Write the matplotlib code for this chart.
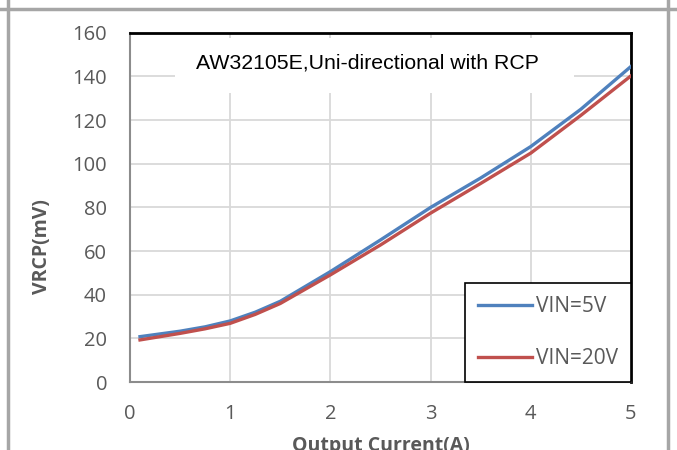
import matplotlib.pyplot as plt
from matplotlib.patches import Rectangle
from matplotlib.lines import Line2D

# Datos
current = [0.1, 0.5, 0.75, 1.0, 1.25, 1.5, 2.0, 2.5, 3.0, 3.5, 4.0, 4.5, 5.0]
vrcp_5v = [20.8, 23.3, 25.3, 28.0, 32.0, 37.0, 50.6, 65.1, 80.0, 93.5, 107.9, 125.0, 144.6]
vrcp_20v = [19.3, 22.3, 24.4, 26.9, 31.0, 36.0, 49.1, 62.8, 77.4, 91.0, 104.9, 122.2, 140.3]
labels = ['VIN=5V', 'VIN=20V']
colors = ['#4F81BD', '#C0504D']

x_ticks = [0, 1, 2, 3, 4, 5]
y_ticks = [0, 20, 40, 60, 80, 100, 120, 140, 160]

tick_font = 'Open Sans'
gray_txt = '#595959'

fig = plt.figure(figsize=(6.77, 4.5), dpi=100)
ax = fig.add_axes([0.192, 0.151, 0.740, 0.776])

for y, lab, c in zip([vrcp_5v, vrcp_20v], labels, colors):
    ax.plot(current, y, color=c, lw=2.4, label=lab, zorder=3)

ax.set_xlim(0, 5)
ax.set_ylim(0, 160)
ax.set_xticks(x_ticks)
ax.set_yticks(y_ticks)
ax.grid(True, color='#d9d9d9', lw=1.3)
ax.set_axisbelow(True)
ax.tick_params(length=0, labelsize=14.5, colors=gray_txt)
ax.tick_params(axis='y', pad=16.5)
ax.tick_params(axis='x', pad=16)
for t in ax.get_xticklabels() + ax.get_yticklabels():
    t.set_fontfamily(tick_font)

# Bordes del area de trazado
for s in ['top', 'right']:
    ax.spines[s].set_color('black')
    ax.spines[s].set_linewidth(2)
for s in ['left', 'bottom']:
    ax.spines[s].set_color('#8c8c8c')
    ax.spines[s].set_linewidth(1.5)

# Caja del titulo dentro del grafico
ax.add_patch(Rectangle((0.09, 0.828), 0.796, 0.158, transform=ax.transAxes,
                       facecolor='white', edgecolor='none', zorder=2))
ax.text(0.473, 0.914, 'AW32105E,Uni-directional with RCP', transform=ax.transAxes,
        ha='center', va='center', fontsize=15.3, family='Liberation Sans', zorder=4)

ax.set_ylabel('VRCP(mV)', fontsize=14, fontweight='bold', color=gray_txt, family=tick_font)
ax.yaxis.set_label_coords(-0.155, 0.387)
ax.set_xlabel('Output Current(A)', fontsize=14, fontweight='bold', color=gray_txt, family=tick_font)
ax.xaxis.set_label_coords(0.5, -0.155)

leg = ax.legend(loc='lower right', bbox_to_anchor=(1.0, 0.0), borderaxespad=0,
                fancybox=False, edgecolor='black', framealpha=1,
                prop={'family': tick_font, 'size': 15},
                handlelength=2.6, handletextpad=0.2, labelspacing=1.5, borderpad=0.62)
for t in leg.get_texts():
    t.set_color(gray_txt)
leg.get_frame().set_linewidth(1.2)
leg.set_zorder(5)

# Marco gris de la figura
fig.add_artist(Line2D([8 / 677, 8 / 677], [0, 1], color='#a6a6a6', lw=2.5))
fig.add_artist(Line2D([668 / 677, 668 / 677], [0, 1], color='#a6a6a6', lw=2.5))
fig.add_artist(Line2D([0, 1], [1 - 9 / 450, 1 - 9 / 450], color='#a6a6a6', lw=2.5))

fig.savefig('out.png', dpi=100)
